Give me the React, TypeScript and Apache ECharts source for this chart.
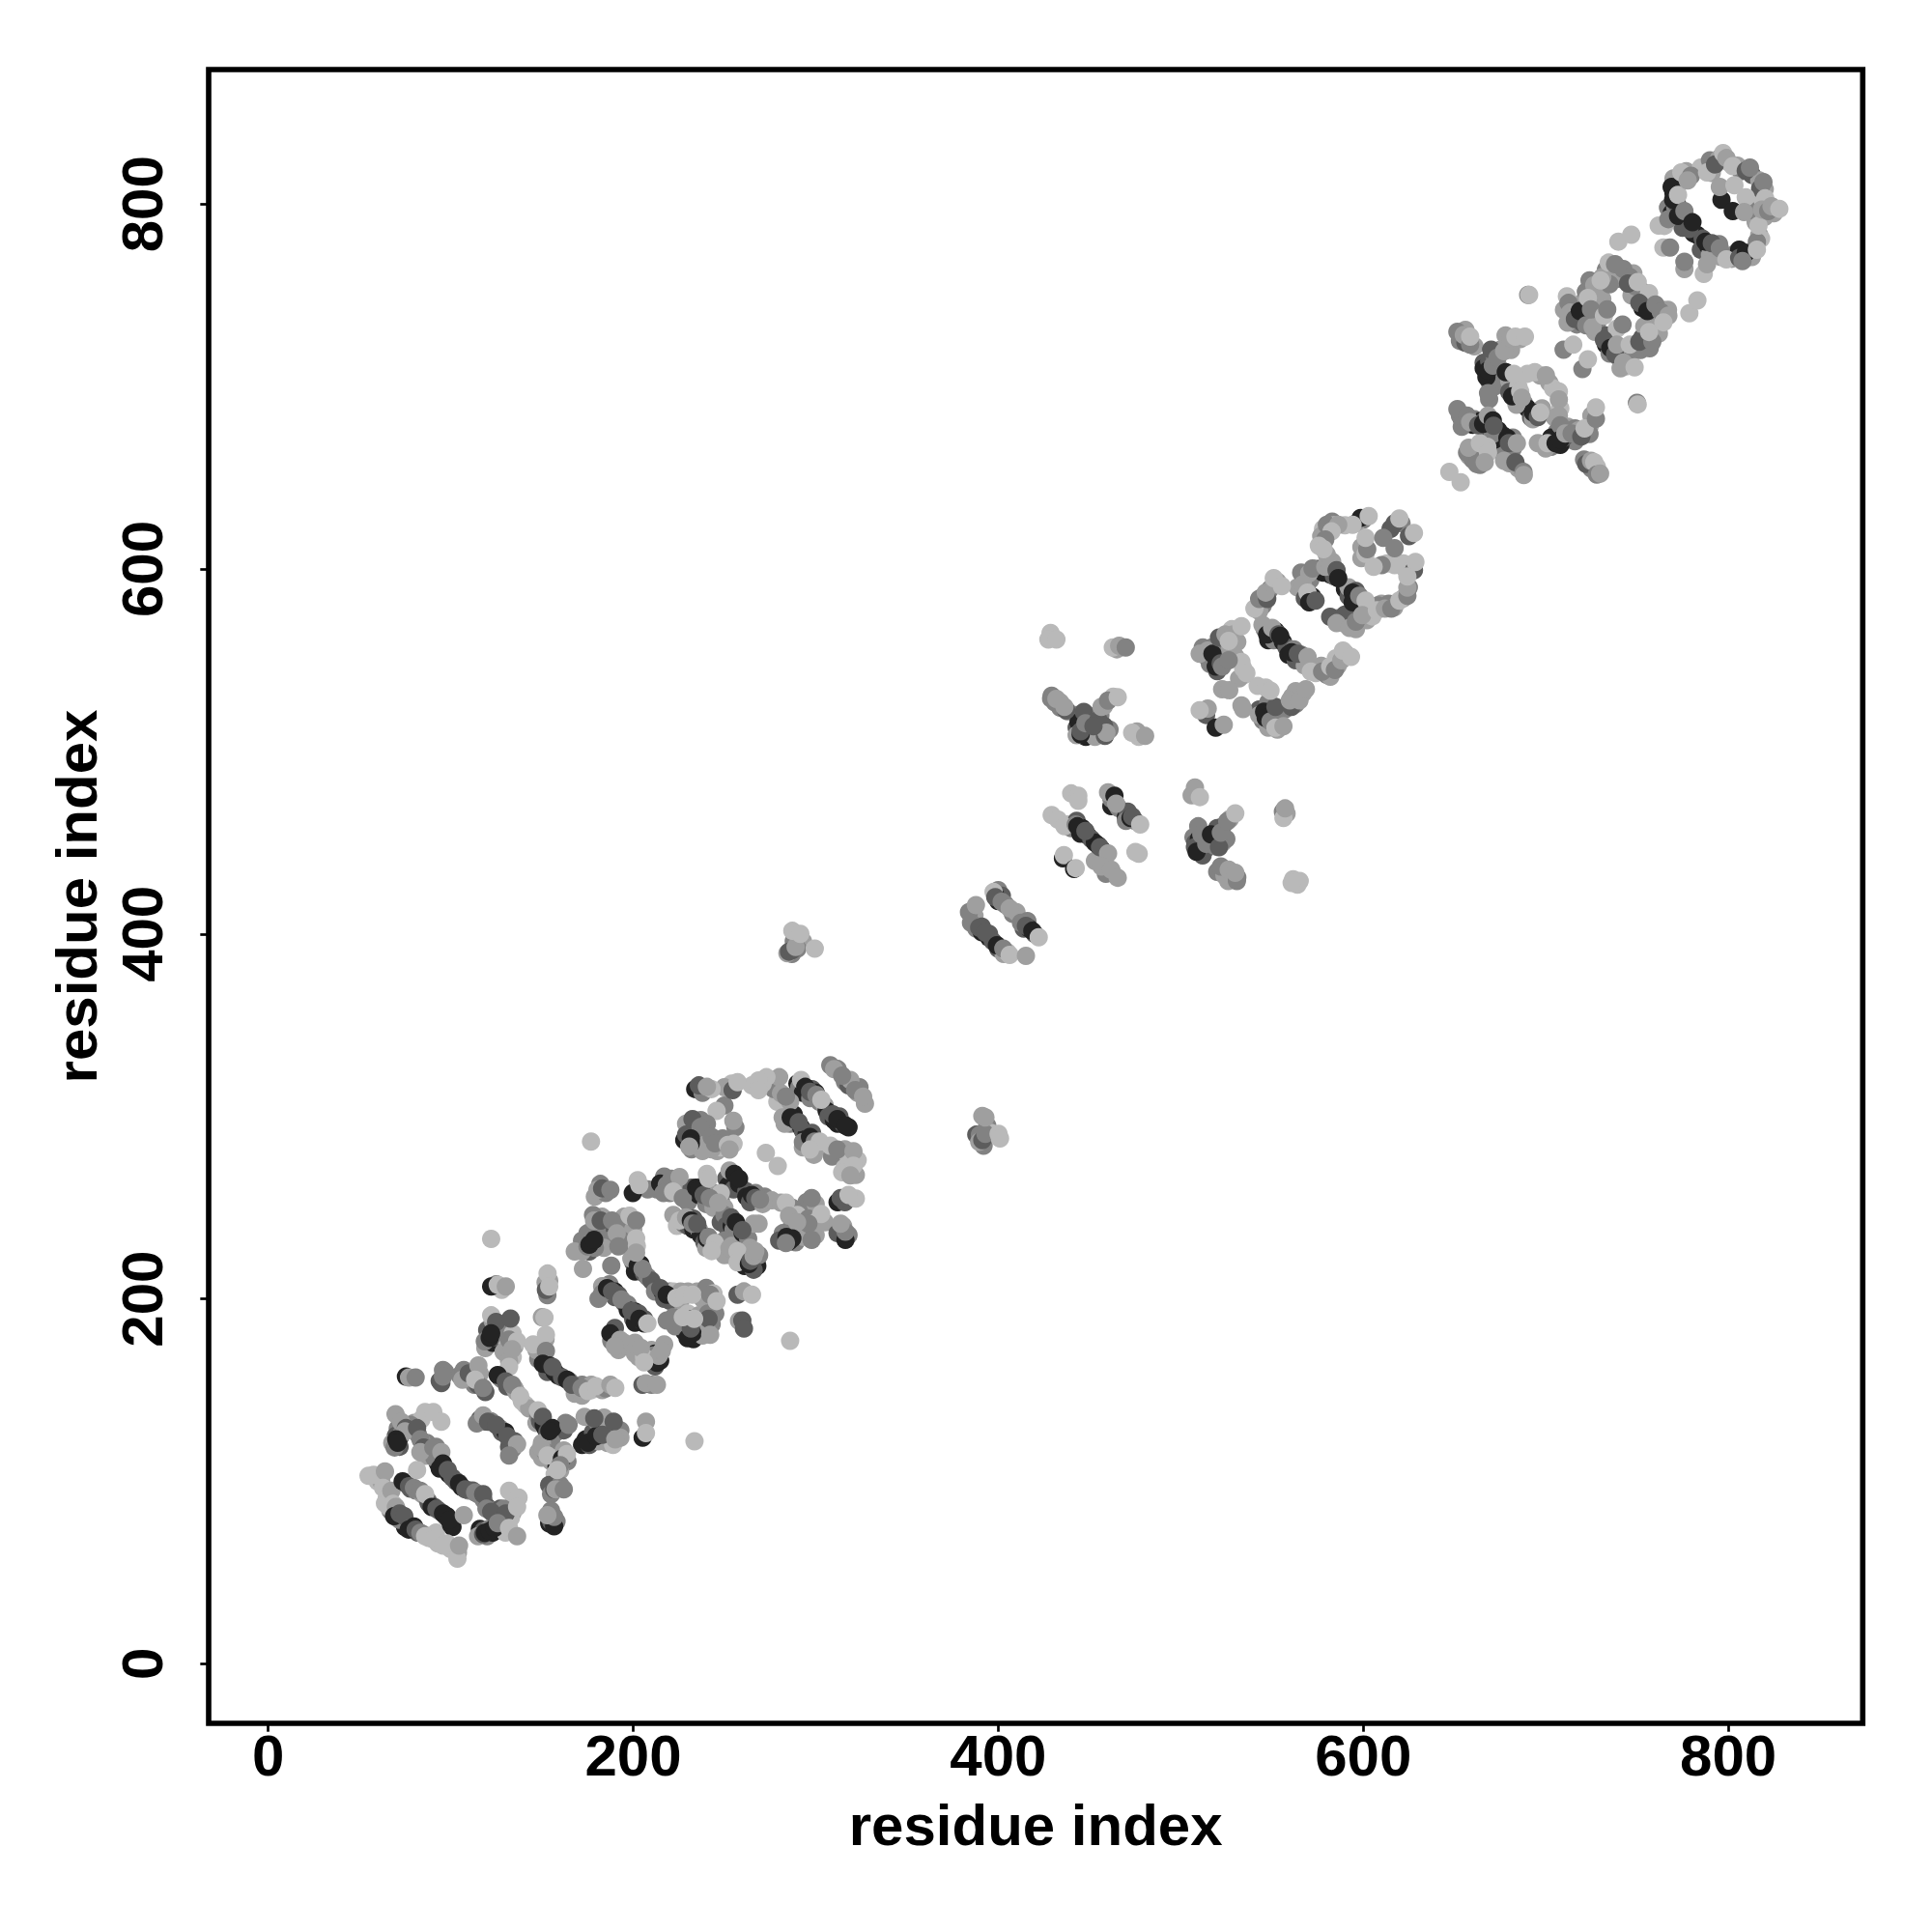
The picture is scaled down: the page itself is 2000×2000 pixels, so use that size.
import React, { useEffect, useRef } from "react";
import * as echarts from "echarts";

type P = [number, number, number];

const tickLabels = [0, 200, 400, 600, 800];
const greyLevels = ["#232323", "#5c5c5c", "#828282", "#9f9f9f", "#b9b9b9"];

const ringOneUnder: P[] = [
  [75,99,2],[78,96,2],[81,95,3],[84.5,93,4],[87.5,89.5,3],[88,88,2],[91,86,2],[93.5,84,3],[97.5,80.5,2],[98,81,1],[101,75,1],
  [71,80,3],[73,79,2],[76,77,2],[75,75,1],[78.5,75,2],[82,72,2],[85,71,4],[88,69,5],[93,66,5],
  [60,100,5],[62,100,4],[65,91,5],[64,88,5],[67,84,3],[70,83,1],[72,79,3],[104,61,4],[100,63,5],[98,66,5],[92,72,5],
  [92,112,2],[93,110,1],[96,108,1],[99,104,1],[101,102,2],[103,100,2],[106,97,1],[110,95,3],[115,93,3],[112,95,2],[118,90,3],[120,86,2],[124,84,3],[127,82,3],[127,85,2],
  [71,129,3],[70,125,2],[72,124,1],[73,126,3],[68,121,4],[72,119,2],[73,132,3],[80,132,4],[84,134,5],[78,131,3],[82,126,3],[87,121,3],[88,116,3],[92,119,3],[84,122,4],[86,114,4],[91,113,3],
  [116,74,1],[118,73,2],[120,70,3],[123,72,1],[115,70,4],[121,74,3],[126,80,4],[129,79,2],[128,76,4],[130,72,5],[134,83,4],[133,80,5],[135,90,5],[129,85,3],
];
const ringTwoUnder: P[] = [
  [120,178,3],[120,175,2],[119,173,4],[123,176,1],[124,179,2],[120,183,2],[123,188,4],[127,186,3],[126,181,2],[130,178,3],[131,183,3],[134,181,5],[131,174,5],[135,174,4],[129,171,4],[134,168,5],[132,166,4],
  [127,157,1],[128,156,3],[131,152,2],[135,151,4],[136,149,4],[139,144,5],[141,142,5],[143,140,4],
  [116,134,2],[119,133,1],[122,133,3],[127,129,3],[128,127,2],[130,127,1],[133,122,3],[135,122,2],[134,118,3],[132,119,2],
  [105,158,3],[109,157,4],[112,160,3],[116,159,4],[113,153,3],[115,153,2],[119,149,2],[97,160,3],[94,155,2],
  [147,132,4],[148,136,3],[149,133,2],[151,131,1],[152,129,1],[153,127,2],[156,126,1],[158,127,3],[162,128,2],[163,132,3],[155,122,3],[150,121,4],[148,116,4],[150,113,4],[152,116,3],[155,111,4],[159,112,3],[162,117,4],[164,111,3],[158,108,1],[160,106,4],[157,104,5],[159,110,2],
  [154,98,2],[155,93,3],[160,98,3],[154,77,1],[155,84,3],[155,78,2],[158,78,3],
  [149,169,2],[149,173,4],[148,167,3],[151,166,1],[153,160,2],[157,160,1],[159,158,1],[161,157,2],[165,155,3],[168,152,3],[170,150,3],[173,150,4],[177,150,5],[168,148,4],[172,147,4],[172,153,3],[177,153,4],[183,150,4],[185,151,3],
  [172,120,1],[174,123,1],[176,120,2],[178,123,2],[181,122,4],[178,127,2],[182,128,3],[180,133,3],[185,130,1],[186,132,3],[184,135,4],[187,125,3],[186,121,4],[189,120,5],[193,128,3],[193,124,4],
  [152,178,4],[147,172,4],[150,190,4],[125,208,3],[128,205,5],[152,209,4],[153,202,3],[154,210,4],
];
const ringThreeUnder: P[] = [
  [186,207,2],[187,208,3],[190,204,1],[190,201,2],[192,202,2],[195,198,2],[197,197,3],[197,194,1],[201,193,1],[200,189,2],[201,187,1],[203,192,2],[205,188,3],[206,189,2],[183,207,4],[183,203,3],[181,200,3],
  [200,220,2],[201,215,1],[204,219,1],[206,214,2],[208,212,3],[210,210,2],[212,207,2],[212,204,3],[216,204,1],[217,200,2],[220,204,3],[220,199,2],[222,204,5],[226,204,4],[226,199,4],[230,204,4],[235,204,4],[238,200,4],[240,206,3],[243,200,4],[244,203,5],
  [229,187,3],[230,192,5],[235,186,5],[236,191,4],[228,182,1],[230,180,2],[233,178,1],[235,182,4],[239,186,3],[238,180,4],[222,190,3],[223,185,3],[232,189,2],[243,186,3],[240,184,4],[241,192,3],[245,192,3],
  [183,245,4],[178,246,3],[180,238,3],[184,240,3],[190,238,2],[195,245,4],[197,240,3],[200,238,4],[198,230,3],[194,232,3],[187,232,3],[184,228,4],[199,222,4],[202,229,5],[176,226,2],[179,228,3],[174,232,2],[172,226,4],[172,232,3],[168,226,4],[175,236,3],
  [190,184,2],[188,177,3],[192,172,4],[195,176,4],[197,174,4],[201,176,4],[201,170,4],[203,168,4],[210,172,4],[211,165,3],[212,170,1],[211,169,3],[217,175,4],[212,163,2],[213,165,1],[206,168,5],[210,153,3],
  [182,263,3],[179,256,4],[185,258,3],[208,260,3],[213,260,3],[217,267,3],[220,258,3],[223,262,3],[225,258,4],[229,258,4],[232,256,3],[230,253,3],[232,261,2],[233,259,2],[236,257,1],[240,252,3],[244,258,3],[248,254,3],[244,250,4],[250,250,4],[240,264,4],[251,266,2],[252,262,1],[256,265,1],[255,260,2],[258,263,1],[262,259,2],[262,256,1],[264,253,2],[267,258,3],[271,252,4],[272,256,3],[248,258,5],
  [222,246,4],[224,240,5],[228,241,3],[233,244,2],[230,240,2],[233,238,1],[236,238,3],[237,235,1],[239,231,2],[242,231,4],[240,228,4],[247,228,5],[248,242,2],[250,246,3],[251,240,2],[254,240,1],[255,238,3],[258,234,3],[250,232,3],[254,229,4],[253,224,5],[250,224,4],[260,236,1],[263,233,3],[261,218,1],[262,222,2],[268,222,3],[268,218,1],[269,224,3],[264,228,4],[266,216,2],
];
const ringFourUnder: P[] = [
  [290,318,1],[291,316,3],[293,313,1],[298,315,2],[300,313,1],[302,308,3],[305,306,4],[292,320,5],[297,310,3],[306,303,1],[307,300,2],[310,298,1],[312,296,1],[315,296,2],[313,300,2],[318,294,1],
  [284,302,3],[288,301,1],[286,296,3],[283,296,4],[289,298,1],[292,294,1],[293,292,2],[295,290,1],[298,291,2],[298,286,2],[301,284,3],[293,283,4],[298,283,4],[299,279,4],[304,284,4],[293,286,3],
  [308,328,3],[312,326,3],[316,319,3],[318,317,2],[323,313,4],[324,316,3],[327,307,4],[319,320,4],
  [278,316,4],[283,307,4],[279,308,5],[277,315,3],[286,308,4],[271,318,5],[265,317,5],[254,318,5],[250,316,4],
  [234,315,1],[238,313,3],[243,315,5],[250,306,3],[256,294,3],[229,296,4],[234,295,2],[238,292,1],[237,298,3],[228,287,1],[229,290,2],[232,282,3],[233,286,1],[236,288,3],[240,290,3],[240,285,4],[246,281,4],[248,283,5],[249,288,3],[243,282,4],[255,285,5],[238,281,4],
  [309,278,3],[308,284,5],[316,282,4],[318,278,5],[316,272,5],[322,268,4],[323,276,5],[312,253,1],[316,253,2],[322,255,5],[295,253,3],[300,252,4],[276,254,4],[287,250,3],[290,246,5],[294,238,3],[296,244,3],[300,242,5],[300,235,4],[305,242,4],[287,240,3],[282,236,3],[280,232,2],[284,234,1],[289,231,3],[293,234,4],[318,235,3],[312,238,4],[312,236,2],[315,240,4],
];
const middleUnder: P[] = [
  [287,389,3],[288,396,3],[293,396,4],[290,392,3],[388,290,2],[392,284,3],[394,295,3],[396,291,5],[390,290,3],
  [388,403,3],[387,410,4],[391,401,1],[391,404,2],[395,398,1],[395,400,2],[397,396,2],[400,392,2],[403,389,4],[405,390,5],[400,424,3],[400,418,1],[402,421,2],[404,416,3],[408,411,3],[410,412,4],[414,403,2],[416,407,3],[417,403,1],[420,400,2],[384,412,3],
  [431,527,3],[434,527,4],[438,522,3],[443,520,3],[443,513,2],[444,516,1],[446,509,2],[449,520,3],[450,511,1],[450,516,2],[452,519,3],[448,508,1],[456,520,3],[458,525,4],[463,530,5],[443,509,4],[455,509,4],[461,512,3],[458,514,2],[453,508,4],[477,508,5],[476,511,4],[465,556,4],[429,529,3],[434,524,3],
  [438,460,5],[440,458,3],[443,462,2],[446,458,1],[445,455,1],[449,454,1],[451,452,2],[453,450,1],[457,446,1],[459,443,3],[453,440,4],[458,441,4],[463,433,5],[459,433,3],[462,470,1],[462,474,3],[466,469,3],[470,464,1],[471,467,2],[470,462,3],[475,462,3],[440,477,5],
  [507,453,3],[508,450,2],[510,452,1],[513,446,1],[512,443,2],[510,448,1],[514,453,4],[516,450,2],[519,453,3],[519,448,3],[523,450,4],[525,452,3],[523,459,3],[527,463,4],[520,458,2],[520,434,3],[524,432,4],[528,430,3],[531,431,3],[526,429,4],[506,476,4],[556,467,3],[558,466,4],[564,427,5],
];
const helixSixHundredUnder: P[] = [
  [515,551,2],[519,551,1],[517,557,3],[523,554,4],[520,544,2],[516,548,3],[524,552,3],[523,559,3],[527,556,4],[531,560,4],[528,567,5],[530,552,4],[535,542,5],[532,540,4],
  [548,565,2],[548,561,1],[551,561,3],[546,567,3],[552,566,1],[556,560,1],[558,557,2],[559,553,1],[562,556,3],[566,551,3],[563,550,2],[566,553,3],[568,547,4],[574,543,5],[580,542,3],[577,547,4],[582,541,4],[586,547,4],[585,551,5],[590,554,4],
  [548,524,1],[549,520,2],[543,523,2],[545,517,3],[548,527,3],[554,516,4],[553,520,3],[557,523,3],[563,526,3],[561,530,4],[563,533,4],[567,532,4],[543,520,4],[553,512,4],[548,513,4],
  [545,580,3],[545,585,4],[549,589,3],[553,593,4],[543,577,4],[564,590,4],[568,594,3],[569,592,4],[566,598,3],[571,594,3],[574,600,3],[568,584,2],[572,585,1],[576,600,2],[583,604,4],[578,598,1],[582,597,1],[584,596,2],[590,589,1],[592,585,2],[592,590,4],[596,588,2],[599,583,3],[602,578,4],[598,578,3],[586,573,3],[590,570,4],[594,574,3],[590,575,2],[596,567,4],[602,572,4],[605,574,5],[610,581,4],[608,580,3],[614,581,3],[617,579,4],[622,584,4],[625,590,3],[623,600,5],[627,602,4],[622,603,5],[613,603,5],[599,612,4],[599,606,4],[600,627,3],[596,625,4],[590,624,5],[583,626,3],[578,622,5],[578,613,3],[577,618,4],[580,608,4],[584,624,5],[621,625,3],[615,622,2],
];
const helixEightHundredUnder: P[] = [
  [654,682,2],[660,679,1],[654,678,3],[661,682,3],[664,681,1],[667,682,2],[668,677,2],[674,676,1],[675,673,2],[677,673,1],[682,672,3],[677,668,3],[682,666,3],[676,664,3],[680,658,4],[685,655,4],[672,671,1],[671,674,3],
  [658,662,4],[660,665,4],[666,662,4],[664,657,3],[660,660,3],[668,667,5],[653,684,3],
  [653,725,3],[656,724,2],[656,731,4],[661,722,4],[666,713,2],[666,710,1],[669,714,2],[670,706,1],[669,703,2],[672,707,1],[674,711,4],[672,717,3],[675,720,3],[678,722,4],[681,720,4],[678,728,4],[672,700,3],[669,693,3],[674,707,2],[676,703,3],[686,726,4],[680,703,4],
  [690,707,5],[697,706,4],[702,702,4],[704,699,5],[708,688,5],[705,683,4],[706,675,3],[703,672,1],[703,667,3],[712,671,3],[712,678,4],[716,670,3],[716,677,3],[718,676,4],[724,678,4],[725,684,4],[724,674,3],[680,697,2],[684,692,1],[688,691,3],[690,688,1],[692,683,2],[698,688,4],[693,682,4],[685,700,5],[684,690,4],
  [721,660,3],[725,655,3],[728,656,5],[700,666,4],[708,668,1],[710,672,2],
  [710,742,4],[714,744,3],[714,736,2],[717,734,3],[720,738,1],[720,735,2],[716,739,1],[712,735,4],[723,736,3],[727,730,4],[728,734,3],[720,746,4],[722,752,3],[726,750,4],[725,746,3],[730,753,4],[731,748,4],[727,738,3],
  [733,764,3],[736,764,4],[739,764,3],[741,759,3],[743,761,2],[745,760,4],[748,754,2],[747,750,4],[749,755,3],[753,747,3],[753,743,1],[757,739,2],[756,748,4],[758,742,3],[761,740,3],[764,739,5],[764,742,4],[767,742,4],[753,752,3],[748,762,4],[738,760,4],[735,756,3],[731,760,4],
  [733,728,2],[733,723,1],[737,720,1],[735,718,3],[740,716,3],[743,719,1],[746,715,4],[744,711,5],[741,710,4],[748,720,3],[752,720,3],[755,726,4],[753,727,2],[758,728,4],[760,732,4],[762,729,4],[757,721,3],[754,733,4],
  [770,806,1],[767,798,3],[769,795,1],[771,798,3],[772,810,3],[774,812,5],[770,814,4],[777,818,4],[772,800,2],[775,791,1],[775,787,2],[777,792,2],[781,784,1],[783,783,1],[785,775,2],[786,781,2],[789,777,1],[792,775,3],[795,778,3],[790,772,4],[796,771,4],[802,770,4],[804,773,3],[806,775,1],[811,771,3],[813,774,4],[813,771,4],[817,783,4],[815,790,4],[818,781,5],[765,788,5],
  [785,820,5],[791,817,4],[790,824,3],[795,825,4],[800,823,5],[805,821,4],[807,818,3],[813,816,2],[817,813,4],[820,808,4],[816,800,5],[815,796,3],[820,793,4],[825,795,4],[819,802,5],
];

const ringOneLower: P[] = [
  [55,103,5],[57.8,103.6,5],[64,105.4,4],[63,96.5,5],[67.5,94.8,4],[68.4,87.7,5],[66,86,5],[70,86,4],[69,81,1],[72,82.4,2],[74.6,81,2],
  [77,73.6,1],[80,75.3,1],[80.8,73.6,2],[83.4,71.8,3],[86,70,5],[90.5,68.3,5],[95.8,64.8,5],[103.7,57.7,5],[104.6,64.8,4],
  [73.7,100,1],[77.2,97.4,2],[79.9,96.5,3],[83.4,94.8,3],[86,93,5],[89.6,86,1],[92.2,85,2],[95.8,82.4,1],[100.2,76.2,1],[99.3,78.9,1],[107.2,81.5,4],[81.6,106.2,5],
];
const ringOneUpper: P[] = [
  [69.8,136.8,4],[72.8,132.7,4],[75.5,129.2,2],[75,127.4,4],[69.3,118.6,3],[70.2,123,1],[71,121.2,1],[86,138,5],[90.5,138,5],[94.9,132.7,5],
  [81.6,129.2,2],[83.4,123,3],[85.2,118.6,2],[83.4,116,4],[90.5,118.6,3],[94.9,116,4],[94,107,1],[95.8,109.8,1],[98.4,106.2,2],[104.6,99,1],[108,95.6,2],[113.4,93.9,3],[117.8,93,2],
  [119.6,85,3],[122.2,83.3,2],[130.2,82.4,2],[132,94.8,5],[137.2,91.2,5],[136.4,86,5],[117.8,71,2],[118.7,71.8,1],[121.4,72.7,1],[124,74.5,1],[125.8,77.1,3],[132,74.5,5],[136.4,70,4],
];
const ringTwoLeft: P[] = [
  [75.5,157.4,1],[77.2,156.9,4],[80.8,156.9,3],[94.9,153.9,2],[95.8,161,3],[95.8,157.4,3],[107.2,161,3],[106.4,155.7,4],[109.9,159.2,2],[115.2,163.6,4],[113.4,155.7,5],[117.8,151.2,3],
  [122.2,191,5],[124.9,187.4,2],[132.8,189.2,2],[118.7,176.8,3],[121.4,178.6,1],[122.2,181.2,1],[132,177.7,3],[136.4,176.8,5],[133.7,172.4,4],[132,162.7,5],[125.8,158.3,1],[130.2,154.8,2],[133.7,153,3],[138,146.8,5],
  [114.3,131.8,3],[117.8,136.2,4],[120.5,132.7,2],[124.9,131,2],[131,124.8,2],[136.4,120.4,4],[132,114.2,3],[122.2,232.9,5],
];
const ringTwoRight: P[] = [
  [147.8,138.9,5],[150.5,135.4,2],[155.8,129.2,1],[154.1,127.5,1],[164.6,131,3],[149.6,118.6,4],[153.1,114.2,5],[161,112.4,1],[163.7,115,5],[160,108.9,3],[158.4,106.2,5],
  [156.7,95.6,2],[157.5,95.6,4],[162,95.6,3],[156.7,75.4,1],[156.7,80.6,3],[153,81.5,4],[122.2,206.8,1],[125.8,207.7,5],[130.2,206.8,4],[152.2,205,2],[153.1,213.9,5],[154,206.8,5],
  [151.4,189.7,5],[152.2,180.4,5],[145.2,175.1,5],[152.2,171.5,3],[150.5,164.5,1],[154,163.6,1],[155.8,162.7,2],[163.7,155.7,1],[166.4,153,2],[171.7,151.2,3],[175.2,149.5,5],[179.6,152.1,5],[187.5,153,4],[190.2,151.2,5],
  [175.2,121.2,1],[179.6,124.8,1],[183.1,125.6,2],[189.3,132.7,2],[190.2,123,4],[173.4,135.4,4],[178.7,134.5,2],[205.2,123.9,1],[207,132.7,4],[207,126.5,5],[233.6,122,5],
];
const ringThreeLower: P[] = [
  [185.7,205.9,1],[188.4,204.1,2],[193.6,199.7,3],[199,193.5,2],[203.4,189.1,1],[206,186.5,1],[207.8,186.5,5],
  [202.5,218.2,1],[205.1,216.5,3],[214.8,205.9,2],[218.4,202.3,1],[223.7,200.6,5],[228,202.3,5],[232.5,202.3,5],[242.2,202.3,3],[245.7,198.8,5],[257.2,202.3,2],[260.7,204.1,4],[265.1,202.3,5],
  [258,188,4],[259.8,188.2,2],[260.7,183.8,2],[229.8,178.5,1],[232.5,181.2,1],[231.6,183.8,2],[241.3,189.1,2],[242.2,180.3,4],[218.4,188.2,3],[227.2,190,5],[233.4,189.1,5],
  [178.6,242.9,4],[182.2,242.9,2],[188.4,242.9,3],[198,245.6,5],[201.6,242.9,3],[191,235.9,4],[201.6,233.2,5],[201.6,225.3,4],[188,218.2,3],[191.9,228.8,3],[175,228.8,3],[176,229.7,1],[178.6,232.4,1],[172.5,216.5,4],
  [187.5,181.2,1],[192.8,177.6,4],[190,174.1,4],[204.2,173.2,4],[214.8,166.2,1],[214,168.8,4],[215.7,171.5,4],[206,165.3,5],[205.1,152.9,2],[206.9,153.8,4],[213,152.9,4],
];
const ringThreeUpper: P[] = [
  [176.9,286.2,5],[180.4,259.7,4],[183,260.6,2],[187.5,259.7,3],[199.8,258,1],[202.5,265,5],[203.4,262.4,5],[214.8,263.2,1],[218.4,262.4,3],[216.6,258,3],[221,265.9,3],[225.4,266.8,4],[221.9,258.8,5],[227.2,255.3,3],
  [234.5,261,1],[236,259.7,1],[238.6,257,2],[242,255.3,3],[246.6,252.7,4],[240.4,268.5,5],[241.3,265.9,5],[252.8,270.3,4],[255.4,268.5,1],[258,265.9,1],[265,257,1],[266.9,255.3,2],[269.5,254.4,3],[266,241.2,4],[268.7,241.2,4],
  [225.4,243,5],[229,244.7,4],[231.6,243,1],[232.5,241.2,3],[235.1,241.2,2],[240.4,233.2,1],[241.3,234,3],[244.8,230.6,5],[243,226.2,5],[253.7,244.7,2],[256.3,242,1],[259.8,237.7,2],[252.8,227.9,4],[257.2,226.2,5],[257.2,220,5],
  [263.4,219.1,1],[264.2,220.9,2],[266,223.5,4],[266.9,226.2,4],[286,177,5],
];
const ringFourLower: P[] = [
  [310.1,325.9,4],[314.5,322.4,3],[321.6,314.4,3],[326,310.9,4],[294.3,316.2,1],[296.9,313.5,2],[300.4,311.8,3],[303.1,309.1,5],[309.3,301.2,2],[311.9,298.5,1],[316.3,295,1],
  [281.9,299.4,4],[286.3,299.4,1],[290.7,296.8,2],[296.9,288.8,1],[299.5,286.2,3],[302.2,286.2,5],[296.9,281.8,5],[280,321.5,4],[273,321.5,5],[268.7,319.7,5],[268.7,314.4,5],[281,312.7,4],[283.7,310.9,3],
  [254.5,314.4,2],[257.2,318.8,5],[236,317,2],[240.4,316.2,4],[245.7,303,5],[254.9,297.6,4],[232.5,298.5,2],[240.4,295.9,3],[236.9,294.1,3],[231.6,288,1],[231.6,285.3,1],[230.7,283.5,4],[243,288.8,3],[244.8,285.3,3],[251.9,284.4,5],[252.8,281.8,4],[272.7,280,5],[279.2,272.9,5],
];
const ringFourUpper: P[] = [
  [311.9,281.8,3],[320.7,280.9,4],[314.5,269.4,5],[320.7,273,5],[319,267.7,4],[313.7,255.3,2],[318,257,5],[297.8,255.3,3],[281,252.7,4],[283.7,252.7,5],[285.4,245.6,4],[303,246.5,5],[296,241.2,3],[289.8,242,4],[297.8,232.4,3],
  [285.4,231.5,1],[287.2,233.2,1],[283.7,230.6,3],[316.3,232.4,1],[316.3,236.8,3],[313.7,241.2,4],
];
const isolatedBlobs: P[] = [
  [284.5,389.4,4],[285.4,390.3,2],[287.2,391.2,2],[289,392.9,4],[287.2,401.7,5],[291.6,400,5],[299.5,392,5],
  [389.6,286.1,4],[391.3,287,2],[393,290.5,3],[391.3,300.3,4],[393,299.4,4],[400.2,290.5,5],[401,287.9,5],
];
const strandFourHundred: P[] = [
  [387.8,415.8,4],[385.1,406.1,3],[389.6,403.5,2],[393,400.8,2],[399.3,393.8,1],[402.8,392,3],[406.3,388.5,5],[415.2,388,4],
  [398.4,421.1,1],[397.5,423,5],[398.4,420.2,2],[401.9,417.6,3],[406.3,414,4],[412.5,406.1,3],[415.2,404.4,2],[418.7,401.7,1],[422.2,398.2,5],
];
const crossUpper: P[] = [
  [428.7,565,5],[427.5,561.4,5],[431.9,561.4,5],[462.8,557,5],[466.3,557.9,4],[469.9,557,3],[429.3,530.5,3],[431.9,528.8,4],[437.2,522.6,2],[436.3,524.4,4],[446.9,521.7,2],
  [445.2,509.4,1],[445.2,511.1,2],[447.8,515.5,3],[454.9,517.3,2],[456.6,524.4,4],[460.2,527.9,3],[465.5,529.7,5],[458.5,508.5,2],[459.3,510.3,4],[452.2,513.8,2],[473.4,510.3,5],[480.5,508.5,4],
];
const crossLower: P[] = [
  [443.9,475.8,5],[443.9,473,5],[460.2,477.6,4],[463.7,475.8,1],[464.6,471.4,4],[472.5,463.5,1],[473.4,464.4,2],[477.8,460,5],[429.3,465.2,5],[432.8,462.6,5],[436.3,459,5],[442.5,460,3],[443.4,459,1],[447.8,456.4,2],
  [454.9,448.5,1],[455.8,447.6,2],[460.2,444.1,4],[456.6,437,4],[461.9,435.2,4],[465.5,430.8,4],[435.5,441.4,1],[436,443.2,5],[441.6,435.6,1],[442.5,436.1,5],[475.2,444.9,5],[477,444,5],
];
const crossRight: P[] = [
  [507.8,480.2,4],[510.5,475,5],[509.6,459,3],[507.8,447.6,2],[508.7,445,1],[511.3,454.6,3],[514,449.4,3],[516.6,454.6,1],[521,447.6,2],[522,455.5,3],[525.5,461.7,3],[529.9,466.1,5],
  [522,437,3],[526.3,435.2,4],[530.8,429,3],[529.9,433.5,4],[556.3,463.5,5],[557.2,468.8,4],[561.6,430,5],[565.2,429,5],[560.8,428,5],
];
const helixSixHundredLower: P[] = [
  [513.9,520,2],[514.8,523.5,4],[510.4,522.6,5],[519.2,513,1],[523.6,514.7,4],[522.7,534.1,4],[526.6,533.6,4],[533.3,525.3,4],[534.2,523.2,4],
  [545.7,521.8,1],[546.6,518.3,1],[549.2,516.5,3],[551.9,513,5],[556.3,513.8,4],[551.9,524.4,2],[560.7,524.4,2],[559.8,528,4],[565.1,528,4],[568.6,534.1,4],
  [542.2,535.9,5],[546.6,535,5],[549.2,533.3,5],[534.2,545.6,5],[533.3,549.1,5],[536,543,5],
  [512.1,557,3],[514.8,555.3,4],[510.4,553.5,4],[517.4,553.5,1],[519.2,546.5,1],[521.9,548.3,2],[522.7,546.5,3],[526.3,550,3],[521,562.4,2],[524.5,564.1,4],[528.9,564.1,4],[526.3,560.6,5],[533.3,568.6,5],
  [544.8,569.4,4],[547.4,564.1,1],[550.1,567.7,4],[553.6,564.1,2],[554.5,563.3,1],[560.7,554.4,1],[564.2,553.6,2],[569.5,551.8,4],[571.3,543.8,5],[577.5,543.8,3],[581.9,546.5,5],[584.5,544.7,3],[588,550,4],[588.9,555.3,5],[593.3,551.8,5],
];
const helixSixHundredUpper: P[] = [
  [540.4,578.3,5],[543,583.6,3],[547.4,583.6,2],[546.6,587.1,4],[551,591.5,4],[551,595,5],[555.4,590.6,5],[567.7,596.8,3],[570.4,597.7,4],[566.9,591.5,4],[572.2,600.3,3],[569.5,587.1,5],[570.4,581.8,1],[573.9,582.7,2],
  [579.2,601.2,4],[581.9,602.1,4],[585.4,599.4,2],[586.3,595,1],[594.2,587.1,1],[594.2,581.8,1],[597.8,585.3,3],[601.3,582.7,5],[581.9,573.8,2],[585.4,570.3,4],[592.5,567.7,4],[596,571.2,3],[599.5,574.7,4],
  [607.5,577.4,5],[611.9,578.3,4],[615.4,578.3,3],[619.8,582.7,5],[624.2,585.3,3],[624.2,589.8,4],[627.8,599.4,2],[628.6,603.9,5],[624.2,595.9,5],[617.2,602.1,5],[610.1,602.1,3],[605.7,601.2,5],
  [601.3,608.3,5],[602.2,610.9,3],[601.3,617.1,5],[611,617.1,3],[617.2,611.4,3],[617.2,625,2],[619.8,627.7,5],[625.1,618,2],[627.8,619.7,5],
  [598.6,628,1],[603,629,5],[594.2,624.2,5],[580.1,624.2,3],[586.3,624.2,4],[582.7,620.6,5],[579.2,616.2,3],[575.7,612.7,5],[578.3,610.9,5],
];
const helixSevenHundred: P[] = [
  [647.2,653.2,5],[653.4,647.5,5],[656.9,663.8,3],[657.8,666.4,4],[663.9,669,5],[668.4,663.8,5],[662.2,657.6,3],[666.6,658.5,4],
  [651.6,687.6,3],[656.9,684,3],[658.6,680.5,4],[663,678.8,2],[665.7,679.6,1],[668.4,684,4],[671,681.4,1],[671.5,678.5,2],[679,671.7,1],[679.8,669,2],[684.2,669,4],[677.2,659.3,4],[683.4,658.5,2],[687.8,653.2,3],[688,651.5,4],
  [651.6,730,3],[655.1,728.2,4],[658.6,722.9,3],[658.6,727.3,5],[670.1,720.2,2],[667.5,705.2,1],[668.4,708.8,1],[671,711.4,3],[668.4,696.4,3],[673.6,715.8,3],[677.2,719.4,4],[680.7,726.4,4],[683.4,727.3,5],[688.6,727.3,5],
  [678.1,707.9,1],[682.5,707,5],[694,707.9,5],[700.1,706.1,4],[707.2,697.3,5],[707.2,692.9,4],[707.2,684,4],[708,678.8,3],[681.6,694.6,1],[686,697.3,5],[686.9,693.8,4],[693,685.8,1],[695.7,683.2,2],[697,685.8,5],
  [695.7,669,4],[701,669,5],[705.4,669,1],[708,670.8,1],[710.7,674.3,4],[714.2,674.3,3],[719.5,672.6,2],[721.3,677,5],[727.5,682.3,3],[727.5,688.5,5],[722.2,657.6,2],[724.8,659.3,4],[726.6,658.5,5],[728,651.8,3],[729.8,652.3,4],
  [690.4,750.2,3],[690.9,750.2,5],[750,691.1,3],[750.4,690.2,5],
];
const helixSevenFifty: P[] = [
  [709.8,720.2,3],[715.1,722.9,5],[720.1,709.6,3],[723.1,714.9,5],[711.6,749.4,5],[712.5,745.8,3],[713.4,740.5,4],[716,737,2],[718.7,741.4,1],[722.2,733.5,3],[725.7,732.6,4],
  [724,758.2,3],[726.6,755.5,4],[730.1,758.2,5],[723.1,748.5,5],[724.8,742.3,3],[734.5,767.9,5],[738,767,3],[742.5,764.4,3],[746,760,3],[745.1,756.4,2],[750.4,757.3,5],[756.6,751.1,5],[751.3,745.8,2],[755.7,741.4,1],[760.1,744.9,3],[763,741,3],[767.2,738.8,4],
  [731.9,738.8,5],[733.7,742.3,3],[739,731.7,5],[742.1,734,3],[731.9,725.5,2],[735.4,721.1,1],[738,717.6,2],[742.5,713.2,4],[748.7,710.5,5],[739,722.9,4],[746,722.9,5],[751.3,724.6,2],[758.4,724.6,3],[756.6,729.9,5],[764.5,735.2,5],[778.7,740.2,5],[783.1,747.2,5],
];
const helixEightHundred: P[] = [
  [739.8,779.4,5],[746.9,783.2,5],[764.5,776.2,5],[768.1,776.2,3],[776,764.4,4],[776,768.4,3],[786.6,761.7,5],[788.4,767,4],[761.9,788.2,5],[767.2,791.7,3],[769,809.4,1],[769.8,802.3,1],[772.5,805,5],[774.3,817.3,5],[779.6,815.5,3],[777.8,812.9,4],
  [772.5,793.5,1],[776,796.1,3],[778.7,786.4,2],[780.4,790,1],[787.5,779.4,1],[791,778.5,2],[795.4,775.8,3],[799,769.7,5],[806,770.5,2],[809.6,773.2,1],[807.8,768.8,3],[815.7,779.4,3],[815.7,775,5],[816.6,788.2,5],
  [788.4,817.3,5],[792.8,821.7,2],[797.2,827.9,5],[799,825.2,4],[802.5,820.8,5],[809.6,818.2,2],[811.9,820,3],[817.5,808.5,2],[819.3,812,3],[820.2,803.2,5],[818.4,797,4],[821.9,796.1,3],[823.7,798.8,4],[828,797.4,5],
  [796.3,802.3,1],[802.5,796.1,1],[795.4,809.4,4],[803.4,810.3,5],[809.6,803.7,5],[808.7,795.6,4],
];

const clusters: P[][] = [
  ringOneUnder, ringTwoUnder, ringThreeUnder, ringFourUnder, middleUnder, helixSixHundredUnder, helixEightHundredUnder,
  ringOneLower, ringOneUpper, ringTwoLeft, ringTwoRight, ringThreeLower, ringThreeUpper, ringFourLower, ringFourUpper,
  isolatedBlobs, strandFourHundred, crossUpper, crossLower, crossRight, helixSixHundredLower, helixSixHundredUpper,
  helixSevenHundred, helixSevenFifty, helixEightHundred,
];

const font = "'Liberation Sans', Arial, Helvetica, sans-serif";

export default function App() {
  const ref = useRef<HTMLDivElement>(null);
  useEffect(() => {
    if (!ref.current) return;
    const chart = echarts.init(ref.current, undefined, { renderer: "svg" });
    const axisCommon = {
      type: "value" as const,
      min: -32.6,
      max: 873.7,
      splitLine: { show: false },
      axisLine: { show: false, onZero: false },
      axisTick: { show: true, length: 8.7, customValues: tickLabels, lineStyle: { color: "#000", width: 2.7 } },
      name: "residue index",
      nameLocation: "middle" as const,
      nameTextStyle: { fontFamily: font, fontWeight: "bold" as const, fontSize: 60, color: "#000" },
    };
    chart.setOption({
      animation: false,
      backgroundColor: "#fff",
      grid: { show: true, left: 216, top: 72, width: 1712.3, height: 1712, borderColor: "#000", borderWidth: 5.6, backgroundColor: "#fff" },
      xAxis: {
        ...axisCommon,
        nameGap: 75,
        axisLabel: { show: true, customValues: tickLabels, margin: 3, fontFamily: font, fontWeight: "bold", fontSize: 60, color: "#000", hideOverlap: false },
      },
      yAxis: {
        ...axisCommon,
        nameGap: 87,
        axisLabel: { show: true, customValues: tickLabels, rotate: 90, margin: 38.5, align: "center", verticalAlign: "bottom", fontFamily: font, fontWeight: "bold", fontSize: 60, color: "#000", hideOverlap: false },
      },
      series: clusters.map((data) => ({
        type: "scatter",
        data,
        symbol: "circle",
        symbolSize: 19,
        silent: true,
        clip: false,
        itemStyle: { opacity: 1, color: (p: any) => greyLevels[p.value[2] - 1] },
      })),
    });
    return () => chart.dispose();
  }, []);
  return <div ref={ref} style={{ position: "absolute", left: 0, top: 0, width: 2000, height: 2000 }} />;
}
